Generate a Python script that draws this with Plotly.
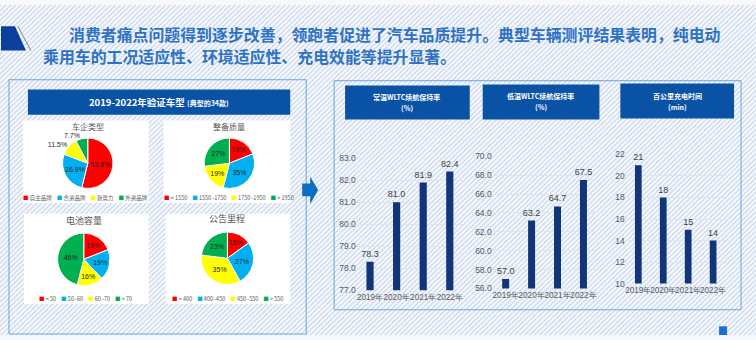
import plotly.graph_objects as go

W, H = 756, 340
def px(x): return x / W
def py(y): return 1 - y / H

# ---------------- data ----------------
title_lines = ["消费者痛点问题得到逐步改善，领跑者促进了汽车品质提升。典型车辆测评结果表明，纯电动",
               "乘用车的工况适应性、环境适应性、充电效能等提升显著。"]
pie_colors = ["#ff0000", "#00b0f0", "#ffff00", "#00b050"]

pie1_title = "车企类型"
pie1_labels = ["自主品牌", "合资品牌", "新势力", "外资品牌"]
pie1_values = [53.8, 26.9, 11.5, 7.7]
pie1_text = ["53.8%", "26.9%", "11.5%", "7.7%"]

pie2_title = "整备质量"
pie2_labels = ["< 1550", "1550~1750", "1750~1950", "> 1950"]
pie2_values = [19, 35, 19, 27]
pie2_text = ["19%", "35%", "19%", "27%"]

pie3_title = "电池容量"
pie3_labels = ["< 50", "50~60", "60~70", "> 70"]
pie3_values = [19, 19, 16, 46]
pie3_text = ["19%", "19%", "16%", "46%"]

pie4_title = "公告里程"
pie4_labels = ["< 400", "400~450", "450~550", "> 550"]
pie4_values = [15, 27, 35, 23]
pie4_text = ["15%", "27%", "35%", "23%"]

years = ["2019年", "2020年", "2021年", "2022年"]
normal_temp = [78.3, 81.0, 81.9, 82.4]
low_temp = [57.0, 63.2, 64.7, 67.5]
charge_time = [21, 18, 15, 14]

FONT = "Noto Sans CJK SC"
LAT = "Liberation Sans"
BAR = "#12357a"
HDR = "#0a52a6"
BORDER = "#6fa6dc"

fig = go.Figure()
shapes = []
ann = []

# ---- striped background ----
segs = []
x = -H
while x < W + 5:
    segs.append(f"M{px(x):.5f},{py(H):.5f} L{px(x + H):.5f},{py(0):.5f}")
    x += 5
shapes.append(dict(type="path", path=" ".join(segs), xref="paper", yref="paper",
                   line=dict(color="#d0dcef", width=1.4), layer="below"))

def rect(x0, y0, x1, y1, fill=None, line=None, lw=1):
    shapes.append(dict(type="rect", xref="paper", yref="paper",
                       x0=px(x0), x1=px(x1), y0=py(y1), y1=py(y0),
                       fillcolor=fill if fill else "rgba(0,0,0,0)",
                       line=dict(color=line if line else "rgba(0,0,0,0)", width=lw if line else 0),
                       layer="below"))

# top-left decoration
shapes.append(dict(type="path", xref="paper", yref="paper", layer="below",
                   path=f"M{px(0)},{py(22)} L{px(14)},{py(22)} L{px(25)},{py(47)} L{px(0)},{py(47)} Z",
                   fillcolor="#0a3f9c", line=dict(width=0)))
shapes.append(dict(type="line", xref="paper", yref="paper", layer="below",
                   x0=px(17), y0=py(22), x1=px(30), y1=py(47), line=dict(color="#8a8a8a", width=1)))

# panels
rect(8, 77, 306, 339, line=BORDER)
rect(334, 78, 742, 314, line=BORDER)
rect(27, 87, 290, 113, fill=HDR)
# pie boxes
rect(22, 119, 148, 204, fill="white")
rect(163, 119, 290, 204, fill="white")
rect(23, 215, 148, 308, fill="white")
rect(165, 215, 290, 308, fill="white")
# bar headers
rect(345, 83, 470, 118, fill=HDR)
rect(483, 82, 600, 118, fill=HDR)
rect(621, 81, 735, 117, fill=HDR)
# small square bottom right
rect(720, 331, 728, 340, fill="#1a6fd0")
# arrow
shapes.append(dict(type="path", xref="paper", yref="paper", layer="above",
                   path=(f"M{px(302)},{py(184)} L{px(310)},{py(184)} L{px(310)},{py(177)} "
                         f"L{px(318)},{py(190.5)} L{px(310)},{py(205)} L{px(310)},{py(197)} L{px(302)},{py(197)} Z"),
                   fillcolor="#0a6fc4", line=dict(width=0)))

def text(x, y, s, size, color, xanchor="center", family=FONT, bold=False):
    if bold:
        s = f"<b>{s}</b>"
    ann.append(dict(x=px(x), y=py(y), xref="paper", yref="paper", text=s, showarrow=False,
                    xanchor=xanchor, yanchor="middle", font=dict(size=size, color=color, family=family)))

# title
text(66, 30, title_lines[0], 15.9, "#2f72c4", xanchor="left", bold=True)
text(40, 53, title_lines[1], 15.9, "#2f72c4", xanchor="left", bold=True)

# left header
text(158, 100, "2019-2022年验证车型 <span style='font-size:7px'>(典型的34款)</span>", 9.5, "white", bold=True)

# pies
def add_pie(cx, cy, r, values, txt, labels, title, title_y, legend_y, positions, tsize=8):
    fig.add_trace(go.Pie(values=values, labels=labels, text=txt, textinfo="text",
                         sort=False, direction="clockwise", rotation=0,
                         marker=dict(colors=pie_colors, line=dict(color="white", width=1)),
                         textposition=positions, insidetextorientation="horizontal",
                         textfont=dict(size=7, color="#262626", family=LAT),
                         hoverinfo="skip", showlegend=False,
                         domain=dict(x=[px(cx - r), px(cx + r)], y=[py(cy + r), py(cy - r)])))
    text(cx, title_y, title, tsize, "#595959")
    parts = [f"<span style='color:{c}'>■</span> {l}" for c, l in zip(pie_colors, labels)]
    text(cx if cx > 150 else 85, legend_y, "    ".join(parts), 5.5, "#595959")

add_pie(87, 163, 26, pie1_values, pie1_text, pie1_labels, pie1_title, 125, 199,
        ["inside", "inside", "outside", "outside"])
add_pie(229, 163, 26, pie2_values, pie2_text, pie2_labels, pie2_title, 125, 199,
        ["inside"] * 4)
add_pie(83, 262, 27, pie3_values, pie3_text, pie3_labels, pie3_title, 222, 303,
        ["inside"] * 4, tsize=9)
add_pie(227, 261, 27, pie4_values, pie4_text, pie4_labels, pie4_title, 220, 303,
        ["inside"] * 4, tsize=9)

# bar charts
def add_bar(idx, vals, xd, yd, yr, dtick, fmt, tfmt, header, hx, hy):
    xa = "x" if idx == 1 else f"x{idx}"
    ya = "y" if idx == 1 else f"y{idx}"
    fig.add_trace(go.Bar(x=years, y=vals, xaxis=xa, yaxis=ya, marker=dict(color=BAR, line=dict(width=0)),
                         text=vals, texttemplate=tfmt, textposition="outside", cliponaxis=False,
                         constraintext="none",
                         textfont=dict(size=9, color="#404040", family=LAT),
                         width=0.27, showlegend=False, hoverinfo="skip"))
    key = "" if idx == 1 else str(idx)
    fig.layout["xaxis" + key] = dict(domain=[px(xd[0]), px(xd[1])], anchor=ya, tickangle=0,
                                     tickfont=dict(size=8.2, color="#595959", family=LAT),
                                     showline=False, showgrid=False, ticks="", fixedrange=True)
    fig.layout["yaxis" + key] = dict(domain=[py(yd[1]), py(yd[0])], anchor=xa, range=yr, dtick=dtick,
                                     tick0=yr[0], tickformat=fmt,
                                     tickfont=dict(size=8.5, color="#595959", family=LAT),
                                     showgrid=True, gridcolor="#dfe5ee", gridwidth=1, zeroline=False,
                                     showline=False, ticks="", fixedrange=True)
    text(hx, hy, header[0], 7, "white", bold=True)
    text(hx, hy + 11, header[1], 7, "white", bold=True)

add_bar(1, normal_temp, (356.7, 463.3), (158, 294), [77, 83], 1, ".1f", "%{y:.1f}",
        ["常温WLTC续航保持率", "(%)"], 407, 95)
add_bar(2, low_temp, (493, 597), (156, 292), [56, 70], 2, ".1f", "%{y:.1f}",
        ["低温WLTC续航保持率", "(%)"], 541, 94)
add_bar(3, charge_time, (626.5, 726.5), (154, 287), [10, 22], 2, "d", "%{y}",
        ["百公里充电时间", "(min)"], 678, 94)

fig.update_layout(width=W, height=H, margin=dict(l=0, r=0, t=0, b=0),
                  paper_bgcolor="#f6f8fc", plot_bgcolor="rgba(0,0,0,0)",
                  shapes=shapes, annotations=ann, bargap=0.7,
                  font=dict(family=FONT))
fig.write_html("out.html")
